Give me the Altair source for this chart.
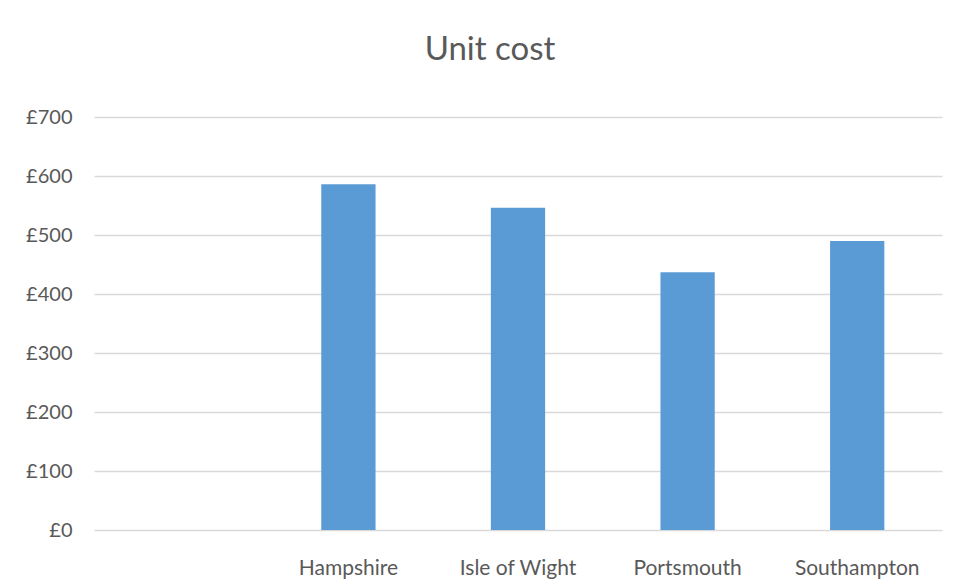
import altair as alt
import pandas as pd

categories = ["", "Hampshire", "Isle of Wight", "Portsmouth", "Southampton"]
values = [None, 586, 546, 437, 490]

df = pd.DataFrame({"area": categories, "cost": values})
plot_df = df.dropna()

FONT = "Lato"
GREY = "#595959"

chart = alt.Chart(plot_df).mark_bar(color="#5b9bd5").encode(
    x=alt.X("area:N", sort=categories,
            scale=alt.Scale(domain=categories, paddingInner=0.68, paddingOuter=0.34),
            axis=alt.Axis(title=None, labelAngle=0, domain=False, ticks=False,
                          labelPadding=27, labelFontSize=21, labelColor=GREY, labelFont=FONT)),
    y=alt.Y("cost:Q", scale=alt.Scale(domain=[0, 700], nice=False),
            axis=alt.Axis(title=None, values=[0, 100, 200, 300, 400, 500, 600, 700],
                          format="$,d", domain=False, ticks=False, labelPadding=22,
                          labelFontSize=20, labelColor=GREY, labelFont=FONT,
                          labelBound=False, labelFlush=False,
                          gridColor="#d9d9d9", gridWidth=1.5)),
).properties(
    width=848, height=413,
    title=alt.TitleParams("Unit cost", fontSize=33, font=FONT, fontWeight="normal",
                          color=GREY, anchor="middle", dx=-28, offset=40),
    padding={"left": 86, "top": 109, "right": 5, "bottom": 60},
    autosize=alt.AutoSizeParams(type="none"),
).configure(
    locale={"number": {"decimal": ".", "thousands": ",", "grouping": [3], "currency": ["£", ""]}}
).configure_view(stroke=None)

chart.save("out.html", embed_options={"renderer": "svg", "actions": False})
